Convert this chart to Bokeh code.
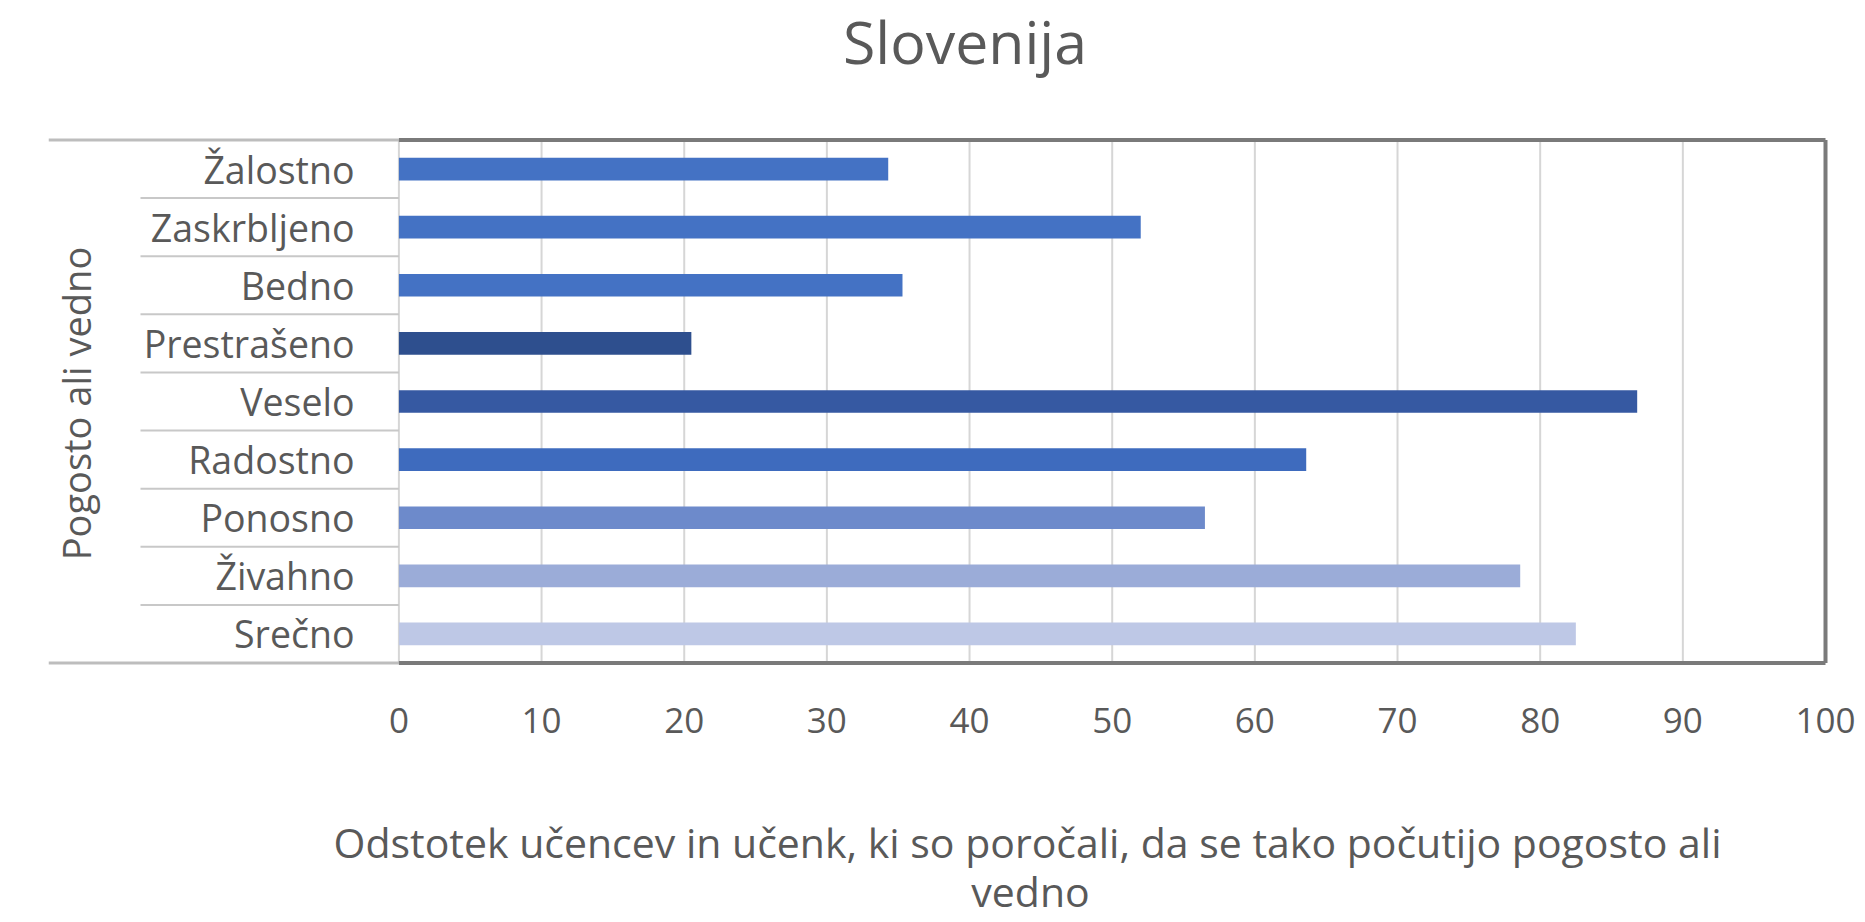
import math
from bokeh.plotting import figure
from bokeh.layouts import column
from bokeh.models import Range1d, FixedTicker, ColumnDataSource
from bokeh.embed import file_html
from bokeh.resources import INLINE
from bokeh.core.properties import value

# ---------------- data ----------------
categories = ["Žalostno", "Zaskrbljeno", "Bedno", "Prestrašeno", "Veselo",
              "Radostno", "Ponosno", "Živahno", "Srečno"]
values = [34.3, 52.0, 35.3, 20.5, 86.8, 63.6, 56.5, 78.6, 82.5]
colors = ["#4472C4", "#4472C4", "#4472C4", "#2E4F8E", "#3659A2",
          "#3E6BBE", "#6D8ACB", "#9BACD8", "#BEC8E6"]
x_ticks = [0, 10, 20, 30, 40, 50, 60, 70, 80, 90, 100]
title_text = "Slovenija"
y_axis_title = "Pogosto ali vedno"
x_axis_title_lines = ["Odstotek učencev in učenk, ki so poročali, da se tako počutijo pogosto ali",
                      "vedno"]

# ---------------- layout (page pixels) ----------------
FONT = "Open Sans"
TXT = "#595959"
W = 1862
H1, H2 = 800, 120
FL, FR, FT, FB = 48, 1828, 0, 666            # frame edges of main figure
X0_PX, X100_PX = 398.4, 1825.0               # where 0 and 100 fall
ROW_TOP, ROW_BOT = 139.5, 662.5              # category band extent
n = len(categories)
ppu = (X100_PX - X0_PX) / 100.0
band = (ROW_BOT - ROW_TOP) / n

def dx(px):
    return (px - X0_PX) / ppu

def dy(py):
    return -0.5 + (py - ROW_TOP) / band

x_start, x_end = dx(FL), dx(FR)

p = figure(width=W, height=H1, output_backend="svg", toolbar_location=None,
           x_range=Range1d(x_start, x_end), y_range=Range1d(dy(FB), dy(FT)),
           y_axis_location=None, x_axis_location="below",
           min_border_left=FL, min_border_right=W - FR,
           min_border_top=FT, min_border_bottom=H1 - FB)
p.outline_line_color = None
p.background_fill_color = "white"
p.border_fill_color = "white"
p.grid.visible = False

ax = p.xaxis[0]
ax.ticker = FixedTicker(ticks=x_ticks)
ax.axis_line_color = None
ax.major_tick_line_color = None
ax.minor_tick_line_color = None
ax.major_tick_out = 0
ax.major_label_standoff = 41
ax.major_label_text_font = FONT
ax.major_label_text_font_size = "35px"
ax.major_label_text_color = TXT

idx = list(range(n))
src = ColumnDataSource(dict(y=idx, right=values, color=colors, label=categories,
                            lx=[dx(354)] * n))

edge_top, edge_bot = -0.5, n - 0.5

# vertical gridlines, only across the category rows
p.segment(x0=x_ticks, x1=x_ticks, y0=[edge_top] * len(x_ticks), y1=[edge_bot] * len(x_ticks),
          line_color="#D6D6D6", line_width=2)

# bars
p.hbar(y="y", left=0, right="right", height=0.39, color="color", line_color=None, source=src)

# separators in label area
sep_y = [i + 0.5 for i in idx[:-1]]
p.segment(x0=[dx(140)] * len(sep_y), x1=[0] * len(sep_y), y0=sep_y, y1=sep_y,
          line_color="#C8C8C8", line_width=2)
p.segment(x0=[x_start, x_start], x1=[0, 0], y0=[edge_top, edge_bot], y1=[edge_top, edge_bot],
          line_color="#BDBDBD", line_width=3)
# frame (top, bottom, right)
p.segment(x0=[0, 0, 100], x1=[100, 100, 100], y0=[edge_top, edge_bot, edge_top],
          y1=[edge_top, edge_bot, edge_bot], line_color="#7A7A7A", line_width=4)

# category labels
p.text(x="lx", y="y", text="label", source=src, text_align="right", text_baseline="middle",
       text_font=value(FONT), text_font_size="37.5px", text_color=TXT)

# y-axis title
p.text(x=[dx(75)], y=[dy(403)], text=[y_axis_title], angle=math.pi / 2,
       text_align="center", text_baseline="middle", text_font=value(FONT),
       text_font_size="38px", text_color=TXT)

# chart title
p.text(x=[dx(964.5)], y=[dy(40)], text=[title_text], text_align="center",
       text_baseline="middle", text_font=value(FONT), text_font_size="59px",
       text_color=TXT)

# x-axis title in a strip below, sharing the x scale
p2 = figure(width=W, height=H2, output_backend="svg", toolbar_location=None,
            x_range=p.x_range, y_range=Range1d(H1 + H2, H1),
            x_axis_location=None, y_axis_location=None,
            min_border_left=FL, min_border_right=W - FR,
            min_border_top=0, min_border_bottom=0)
p2.outline_line_color = None
p2.grid.visible = False
p2.background_fill_color = "white"
p2.border_fill_color = "white"
p2.text(x=[dx(1027), dx(1030)], y=[841, 890], text=x_axis_title_lines,
        text_align="center", text_baseline="middle", text_font=value(FONT),
        text_font_size="41px", text_color=TXT)

layout = column(p, p2, spacing=0)
open("out.html", "w").write(file_html(layout, INLINE))
